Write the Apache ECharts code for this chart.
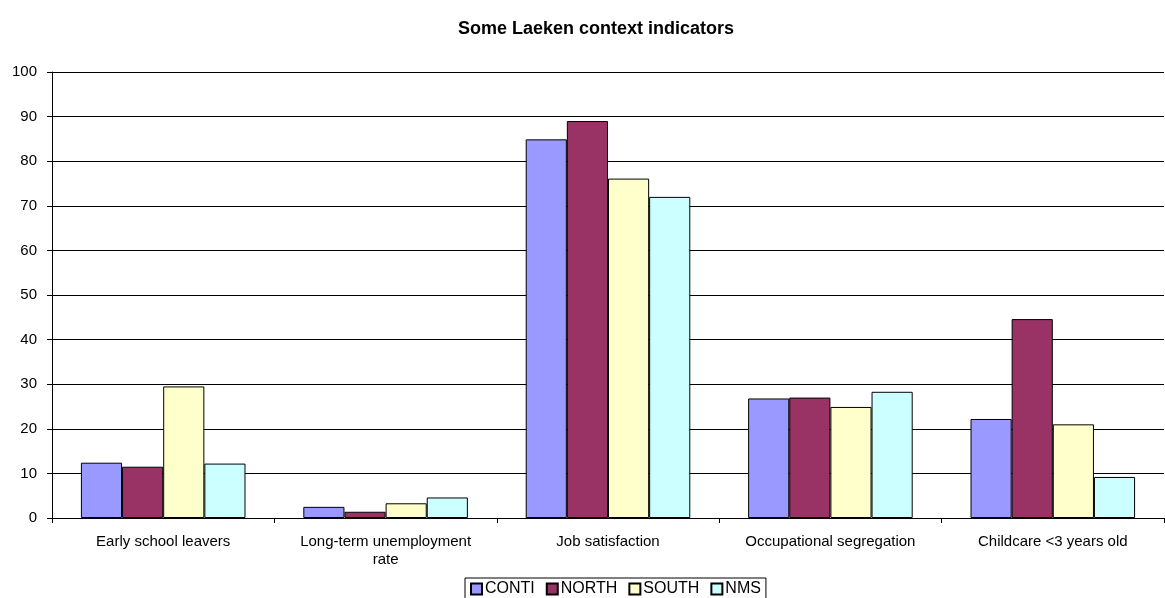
<!DOCTYPE html>
<html>
<head>
<meta charset="utf-8">
<script src="https://cdn.jsdelivr.net/npm/echarts@6/dist/echarts.min.js"></script>
<style>html,body{margin:0;padding:0;background:#fff;}#c{width:1165px;height:598px;}</style>
</head>
<body>
<div id="c"></div>
<script>
const categories = ['Early school leavers', 'Long-term unemployment\nrate', 'Job satisfaction', 'Occupational segregation', 'Childcare <3 years old'];
const seriesNames = ['CONTI', 'NORTH', 'SOUTH', 'NMS'];
const conti = [12.4, 2.5, 84.9, 26.8, 22.2];
const north = [11.5, 1.4, 89.0, 27.0, 44.6];
const south = [29.5, 3.3, 76.1, 24.9, 21.0];
const nms = [12.2, 4.6, 72.0, 28.3, 9.2];
const yTicks = [0, 10, 20, 30, 40, 50, 60, 70, 80, 90, 100];
const colors = ['#9999FF', '#993366', '#FFFFCC', '#CCFFFF'];
const values = [conti, north, south, nms];

const chart = echarts.init(document.getElementById('c'), null, {renderer: 'canvas'});
const font = 'Liberation Sans, Arial, sans-serif';
chart.setOption({
  animation: false,
  backgroundColor: '#fff',
  title: {
    text: 'Some Laeken context indicators',
    left: 591, top: 15, textAlign: 'center',
    textStyle: {fontFamily: font, fontSize: 18, fontWeight: 'bold', color: '#000'}
  },
  legend: {
    data: seriesNames,
    left: 465, top: 578,
    orient: 'horizontal',
    itemWidth: 11, itemHeight: 11, itemGap: 11,
    icon: 'rect',
    borderColor: '#000', borderWidth: 1, padding: [3, 5, 3, 5],
    textStyle: {fontFamily: font, fontSize: 16, color: '#000', padding: [0, 0, 0, -2]}
  },
  grid: {left: 52, right: 1, top: 72, bottom: 80, containLabel: false},
  xAxis: {
    type: 'category',
    data: categories,
    axisLine: {lineStyle: {color: '#000', width: 1}},
    axisTick: {show: true, length: 5, lineStyle: {color: '#000'}},
    axisLabel: {fontFamily: font, fontSize: 15, color: '#000', margin: 15, lineHeight: 18, interval: 0}
  },
  yAxis: {
    type: 'value',
    min: yTicks[0], max: yTicks[yTicks.length - 1], interval: 10,
    axisLine: {show: true, lineStyle: {color: '#000', width: 1}},
    axisTick: {show: true, length: 5, lineStyle: {color: '#000'}},
    axisLabel: {fontFamily: font, fontSize: 15, color: '#000', margin: 15},
    splitLine: {show: true, lineStyle: {color: '#000', width: 1}}
  },
  series: seriesNames.map((n, i) => ({
    name: n,
    type: 'bar',
    data: values[i],
    barGap: '0%',
    barCategoryGap: '26%',
    itemStyle: {color: colors[i], borderColor: '#000', borderWidth: 1}
  }))
});
</script>
</body>
</html>
